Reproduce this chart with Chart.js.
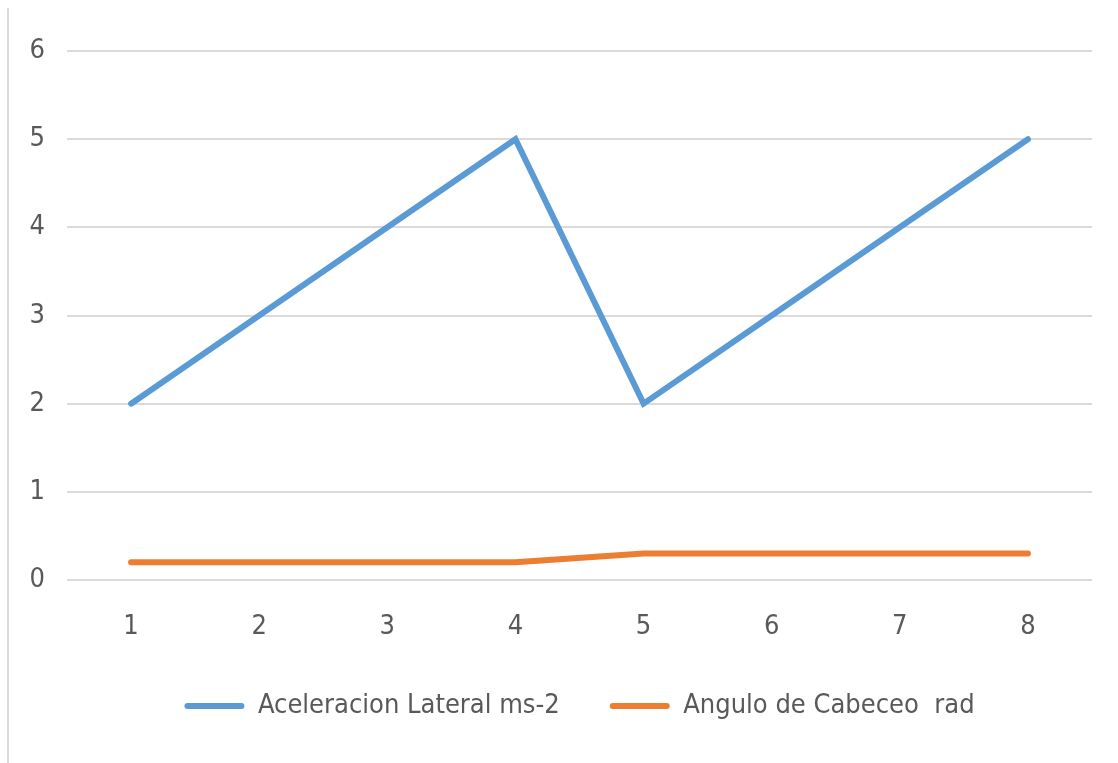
<!DOCTYPE html>
<html>
<head>
<meta charset="utf-8">
<script src="https://cdn.jsdelivr.net/npm/chart.js@4/dist/chart.umd.min.js"></script>
<style>
  html, body { margin: 0; padding: 0; background: #ffffff; }
  #wrap { position: relative; width: 1118px; height: 763px; }
  #edge { position: absolute; left: 7px; top: 8px; bottom: 0; width: 2px; background: #d9d9d9; }
  canvas { position: absolute; left: 0; top: 0; }
</style>
</head>
<body>
<div id="wrap">
  <div id="edge"></div>
  <canvas id="chart" width="1118" height="763"></canvas>
</div>
<script>
// Categories along the horizontal axis
const categories = ['1', '2', '3', '4', '5', '6', '7', '8'];

// Series values
const aceleracionLateral = [2, 3, 4, 5, 2, 3, 4, 5];
const anguloCabeceo = [0.2, 0.2, 0.2, 0.2, 0.3, 0.3, 0.3, 0.3];

// Series names
const seriesNames = ['Aceleracion Lateral ms-2', 'Angulo de Cabeceo  rad'];

// Value axis range
const yMin = 0;
const yMax = 6;
const yStep = 1;

const FONT_FAMILY = "'Liberation Sans Narrow', 'DejaVu Sans Condensed', 'Arial Narrow', sans-serif";
const FONT_SIZE = 27;
const TEXT_COLOR = '#595959';
const GRID_COLOR = '#dadada';

new Chart(document.getElementById('chart'), {
  type: 'line',
  data: {
    labels: categories,
    datasets: [
      {
        label: seriesNames[0],
        data: aceleracionLateral,
        borderColor: '#5b9bd5',
        backgroundColor: '#5b9bd5',
        borderWidth: 6,
        borderCapStyle: 'round',
        pointRadius: 0,
        tension: 0
      },
      {
        label: seriesNames[1],
        data: anguloCabeceo,
        borderColor: '#ed7d31',
        backgroundColor: '#ed7d31',
        borderWidth: 6,
        borderCapStyle: 'round',
        pointRadius: 0,
        tension: 0
      }
    ]
  },
  options: {
    responsive: false,
    animation: false,
    layout: { padding: { top: 51, right: 26, bottom: 33.5, left: 0 } },
    plugins: {
      tooltip: { enabled: false },
      legend: {
        position: 'bottom',
        fullSize: false,
        labels: {
          font: { family: FONT_FAMILY, size: FONT_SIZE },
          color: TEXT_COLOR,
          boxWidth: 60,
          boxHeight: 6,
          useBorderRadius: true,
          borderRadius: 3,
          padding: 50,
          generateLabels(chart) {
            return chart.data.datasets.map((ds, i) => ({
              text: ds.label,
              fillStyle: ds.borderColor,
              strokeStyle: ds.borderColor,
              lineWidth: 0,
              fontColor: TEXT_COLOR,
              borderRadius: 3,
              datasetIndex: i,
              hidden: false
            }));
          }
        }
      }
    },
    scales: {
      x: {
        offset: true,
        grid: { display: false, drawTicks: false },
        border: { display: false },
        ticks: {
          font: { family: FONT_FAMILY, size: FONT_SIZE },
          color: TEXT_COLOR,
          padding: 31,
          maxRotation: 0
        },
        afterFit(scale) { scale.height = 62.5; }
      },
      y: {
        min: yMin,
        max: yMax,
        grid: { color: GRID_COLOR, lineWidth: 2, drawTicks: false },
        border: { display: false },
        ticks: {
          stepSize: yStep,
          font: { family: FONT_FAMILY, size: FONT_SIZE },
          color: TEXT_COLOR,
          padding: 22
        },
        afterFit(scale) { scale.width = 67; }
      }
    }
  }
});
</script>
</body>
</html>
